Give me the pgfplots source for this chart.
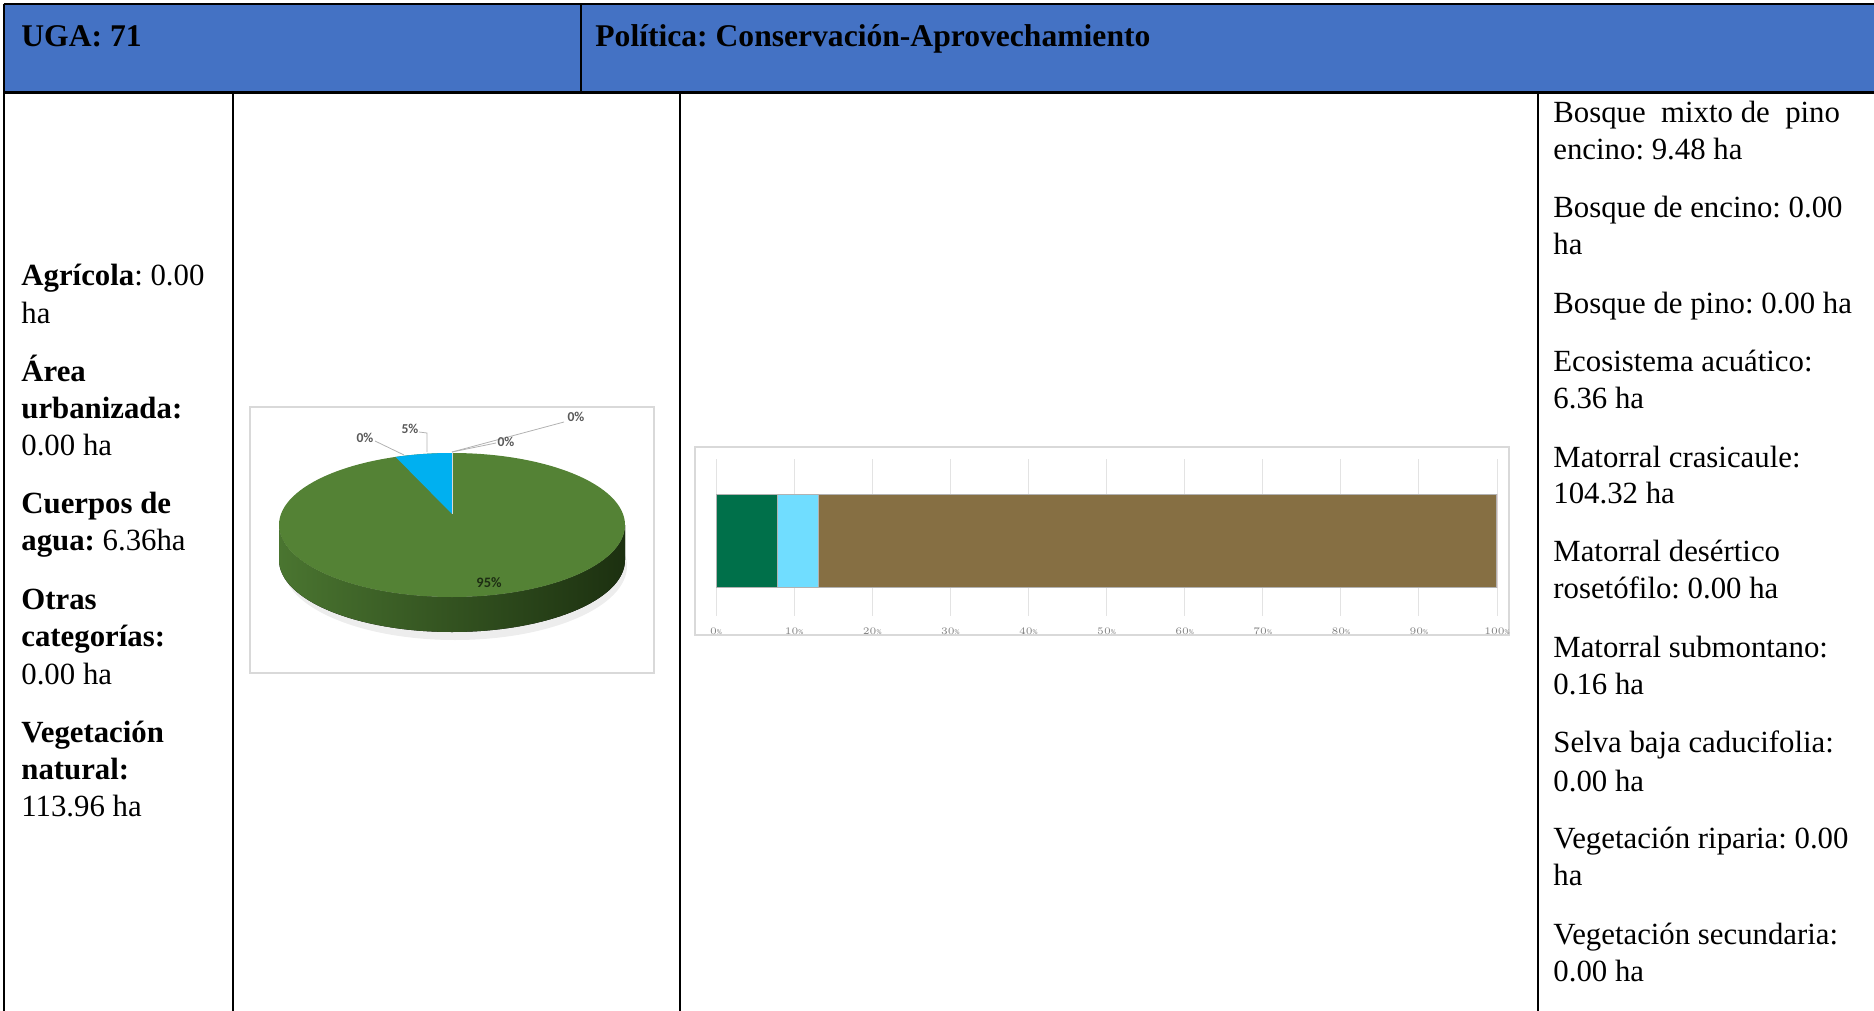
\documentclass[border=0pt]{standalone}
\usepackage{pgfplots}
\pgfplotsset{compat=1.18}
\usepackage{fontspec}
\setmainfont{Liberation Serif}
\newfontfamily\lbl{Carlito}
\frenchspacing
\definecolor{hdr}{HTML}{4472C4}
\definecolor{piegreen}{HTML}{548235}
\definecolor{pieblue}{HTML}{00B0F0}
\definecolor{sideL}{HTML}{4A7530}
\definecolor{sideR}{HTML}{1C3010}
\definecolor{bgreen}{HTML}{00704A}
\definecolor{bblue}{HTML}{70DDFF}
\definecolor{bbrown}{HTML}{866F43}
\definecolor{bred}{HTML}{C0504D}
\definecolor{boxgray}{HTML}{D9D9D9}
\definecolor{lblgray}{HTML}{595959}
\newcommand{\T}{\fontsize{15.4}{18.5}\selectfont}
\newcommand{\Hd}{\fontsize{15.8}{18.5}\selectfont}
\pgfmathsetmacro{\agua}{6.36}
\pgfmathsetmacro{\veg}{113.96}
\pgfmathsetmacro{\angB}{360*\agua/(\agua+\veg)}
\begin{document}
\begin{tikzpicture}
\begin{scope}[x=0.5pt,y=-0.5pt]
\useasboundingbox (0,0) rectangle (1874,1011);
% header
\fill[hdr] (4,4) rectangle (1874,93);
\draw[line width=1.2pt] (3.5,4) -- (1874,4);
\draw[line width=1.2pt] (4,4) -- (4,1011);
\draw[line width=1.5pt] (4,93) -- (1874,93);
\draw[line width=0.8pt] (581,4) -- (581,93);
\draw[line width=1pt] (233,93) -- (233,1011);
\draw[line width=1pt] (680,93) -- (680,1011);
\draw[line width=1pt] (1538,93) -- (1538,1011);
\node[anchor=base west,inner sep=0] at (21,47) {\Hd\bfseries UGA: 71};
\node[anchor=base west,inner sep=0] at (595,47) {\Hd\bfseries Política: Conservación-Aprovechamiento};
% left column
\foreach \y/\t in {285/{\textbf{Agrícola}: 0.00},323/{ha},
  381/{\textbf{Área}},418/{\textbf{urbanizada:}},455/{0.00 ha},
  513/{\textbf{Cuerpos de}},550/{\textbf{agua:} 6.36ha},
  609/{\textbf{Otras}},646/{\textbf{categorías:}},684/{0.00 ha},
  742/{\textbf{Vegetación}},779/{\textbf{natural:}},816/{113.96 ha}}
  \node[anchor=base west,inner sep=0] at (21,\y) {\T\t};
% right column
\foreach \y/\t in {123/{Bosque\ \ mixto de\ \ pino},160/{encino: 9.48 ha},
  217/{Bosque de encino: 0.00},254/{ha},313/{Bosque de pino: 0.00 ha},
  371/{Ecosistema acuático:},408/{6.36 ha},467/{Matorral crasicaule:},503/{104.32 ha},
  561/{Matorral desértico},598/{rosetófilo: 0.00 ha},657/{Matorral submontano:},694/{0.16 ha},
  752/{Selva baja caducifolia:},791/{0.00 ha},848/{Vegetación riparia: 0.00},885/{ha},
  944/{Vegetación secundaria:},981/{0.00 ha}}
  \node[anchor=base west,inner sep=0] at (1553,\y) {\T\t};
% chart boxes
\draw[boxgray,line width=0.6pt] (250,407) rectangle (654,673);
\draw[boxgray,line width=0.6pt] (695,447) rectangle (1509,635);
\end{scope}
% pie chart
\begin{axis}[at={(125pt,-336.5pt)},anchor=south west,scale only axis,
  width=202pt,height=133pt,xmin=250,xmax=654,ymin=-673,ymax=-407,
  hide axis,clip=false]
\fill[black,opacity=0.07] (axis cs:455,-566) ellipse[x radius=86pt,y radius=37pt];
\fill[left color=sideL,right color=sideR] (axis cs:279,-525) -- (axis cs:279,-560)
  arc[start angle=180,end angle=360,x radius=86.5pt,y radius=36pt]
  -- (axis cs:625,-525)
  arc[start angle=0,end angle=-180,x radius=86.5pt,y radius=36pt] -- cycle;
\fill[piegreen] (axis cs:452,-525) ellipse[x radius=86.5pt,y radius=36pt];
\fill[pieblue] (axis cs:452,-514) -- (axis cs:452,-453)
  arc[start angle=90,end angle=90+\angB,x radius=86.5pt,y radius=36pt] -- cycle;
\draw[white!70!gray,line width=0.4pt] (axis cs:452,-514) -- (axis cs:452,-453);
\draw[gray!60,line width=0.4pt] (axis cs:375,-441) -- (axis cs:404,-455);
\draw[gray!60,line width=0.4pt] (axis cs:419,-432) -- (axis cs:427,-433) -- (axis cs:427,-452);
\draw[gray!60,line width=0.4pt] (axis cs:496,-443) -- (axis cs:452,-452);
\draw[gray!60,line width=0.4pt] (axis cs:564,-422) -- (axis cs:452,-452);
\node[text=lblgray,font=\lbl\bfseries\fontsize{6.8}{7}\selectfont] at (axis cs:410,-429) {5\%};
\node[text=lblgray,font=\lbl\bfseries\fontsize{6.8}{7}\selectfont] at (axis cs:365,-438) {0\%};
\node[text=lblgray,font=\lbl\bfseries\fontsize{6.8}{7}\selectfont] at (axis cs:506,-442) {0\%};
\node[text=lblgray,font=\lbl\bfseries\fontsize{6.8}{7}\selectfont] at (axis cs:576,-417) {0\%};
\node[text=black!65!piegreen,font=\lbl\bfseries\fontsize{7.2}{8}\selectfont] at (axis cs:489,-583) {95\%};
\end{axis}
% bar chart
\begin{axis}[at={(358pt,-308pt)},anchor=south west,scale only axis,
  width=390.5pt,height=78.5pt,xbar stacked,bar width=46.5pt,
  xmin=0,xmax=100,ymin=-0.962,ymax=1.038,
  xtick={0,10,...,100},ytick=\empty,
  xticklabel={\pgfmathprintnumber{\tick}\%},
  axis line style={draw=none},major tick length=0pt,
  xmajorgrids,grid style={gray!22,line width=0.5pt},
  ticklabel style={font=\lbl\fontsize{3.5}{4}\selectfont,text=gray},
  x tick label style={yshift=-2.5pt}]
\addplot[fill=bgreen,draw=gray!60,line width=0.4pt] coordinates {(7.879,0)};
\addplot[fill=bblue,draw=gray!60,line width=0.4pt] coordinates {(5.286,0)};
\addplot[fill=bbrown,draw=gray!60,line width=0.4pt] coordinates {(86.702,0)};
\addplot[fill=bred,draw=bred,line width=0.2pt] coordinates {(0.133,0)};
\end{axis}
\end{tikzpicture}
\end{document}
